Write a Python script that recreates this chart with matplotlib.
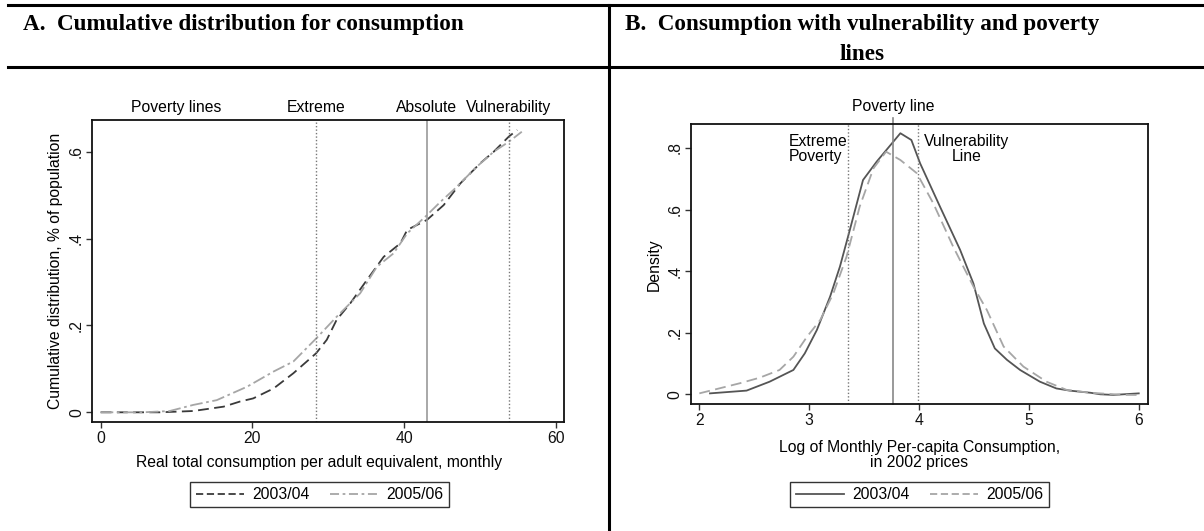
import matplotlib
matplotlib.use("Agg")
import matplotlib.pyplot as plt
from matplotlib.lines import Line2D

plt.rcParams['font.family'] = ['Liberation Sans', 'DejaVu Sans']

# ---- Panel A: cumulative distribution of consumption ----
cdf_x_0304 = [0, 7.8, 12.2, 16.2, 18.4, 20.1, 22.8, 25.4, 28.4, 29.8, 31.1, 32.9,
              35.1, 37.3, 39.5, 40.4, 43.0, 45.2, 47.4, 50.0, 51.8, 53.8, 54.9]
cdf_y_0304 = [0, 0, 0.003, 0.013, 0.025, 0.032, 0.055, 0.09, 0.136, 0.167, 0.213, 0.251,
              0.305, 0.358, 0.389, 0.42, 0.443, 0.477, 0.527, 0.573, 0.60, 0.635, 0.65]
cdf_x_0506 = [0, 5.6, 9.1, 12.2, 15.3, 19.3, 22.8, 25.4, 28.4, 31.1, 34.2, 36.4,
              38.6, 40.4, 43.0, 44.8, 46.5, 49.6, 51.8, 53.8, 55.5]
cdf_y_0506 = [0, 0, 0.003, 0.017, 0.028, 0.059, 0.094, 0.117, 0.17, 0.22, 0.274, 0.335,
              0.366, 0.412, 0.454, 0.485, 0.512, 0.566, 0.60, 0.623, 0.646]
lines_a = {"Extreme": 28.4, "Absolute": 43.0, "Vulnerability": 53.8}
xticks_a = [0, 20, 40, 60]
yticks_a = [0, 0.2, 0.4, 0.6]
yticklabels_a = ["0", ".2", ".4", ".6"]

# ---- Panel B: density of log consumption ----
dens_x_0304 = [2.097, 2.43, 2.64, 2.856, 2.96, 3.07, 3.19, 3.28, 3.37, 3.49, 3.615, 3.83,
               3.93, 4.01, 4.19, 4.374, 4.495, 4.59, 4.69, 4.80, 4.92, 5.10, 5.25, 5.37,
               5.56, 5.65, 5.77, 6.0]
dens_y_0304 = [0.003, 0.012, 0.041, 0.079, 0.133, 0.209, 0.317, 0.415, 0.534, 0.696, 0.756,
               0.848, 0.826, 0.75, 0.61, 0.469, 0.36, 0.23, 0.149, 0.112, 0.079, 0.041,
               0.019, 0.012, 0.005, 0.0, -0.002, 0.003]
dens_x_0506 = [2.0, 2.37, 2.55, 2.73, 2.856, 2.98, 3.10, 3.22, 3.34, 3.46, 3.585, 3.70,
               3.83, 3.98, 4.13, 4.31, 4.495, 4.617, 4.77, 4.95, 5.16, 5.345, 5.56, 5.86, 6.0]
dens_y_0506 = [0.003, 0.036, 0.054, 0.079, 0.122, 0.187, 0.241, 0.328, 0.447, 0.61, 0.734,
               0.788, 0.761, 0.718, 0.62, 0.48, 0.35, 0.274, 0.155, 0.09, 0.041, 0.014,
               0.005, -0.002, -0.002]
extreme_b = 3.354
poverty_b = 3.767
vulner_b = 3.989
xticks_b = [2, 3, 4, 5, 6]
yticks_b = [0, 0.2, 0.4, 0.6, 0.8]
yticklabels_b = ["0", ".2", ".4", ".6", ".8"]

W, H = 1204, 531
fig = plt.figure(figsize=(W / 100, H / 100), dpi=100)

def fx(px):
    return px / W

def fy(py):
    return 1 - py / H

FS = 11.3
TFS = 16.7
DARK = "#3a3a3a"
LIGHT = "#a6a6a6"

# ---- table frame ----
for y in (4.7, 66.7):
    fig.add_artist(Line2D([fx(8), 1], [fy(y), fy(y)], color="black", lw=2.2))
fig.add_artist(Line2D([fx(608.7), fx(608.7)], [fy(4.7), 0], color="black", lw=2.2))

fig.text(fx(23), fy(30), "A.  Cumulative distribution for consumption",
         family="Liberation Serif", weight="bold", fontsize=TFS, va="baseline", ha="left")
fig.text(fx(862), fy(30), "B.  Consumption with vulnerability and poverty",
         family="Liberation Serif", weight="bold", fontsize=TFS, va="baseline", ha="center")
fig.text(fx(862), fy(60), "lines",
         family="Liberation Serif", weight="bold", fontsize=TFS, va="baseline", ha="center")


def style_axes(ax):
    for s in ax.spines.values():
        s.set_linewidth(1.3)
        s.set_color("#111111")
    ax.tick_params(direction="out", length=4.5, width=1.0, color="#333333", pad=1.5,
                   labelsize=FS, labelcolor="#111111")
    for lab in ax.get_yticklabels():
        lab.set_rotation(90)
        lab.set_va("center")


def make_legend(handles, cx):
    leg = fig.legend(handles=handles, labels=["2003/04", "2005/06"], ncol=2, loc="center",
                     bbox_to_anchor=(fx(cx), fy(494.5)), fontsize=FS, frameon=True,
                     fancybox=False, edgecolor="black", handlelength=3.1,
                     columnspacing=1.3, borderpad=0.35, handletextpad=0.5,
                     borderaxespad=0)
    leg.get_frame().set_linewidth(1.0)
    return leg


# ---- Panel A ----
axA = fig.add_axes([fx(92.3), fy(422.3), fx(564.3 - 92.3), (422.3 - 120) / H])
axA.plot(cdf_x_0304, cdf_y_0304, color=DARK, lw=1.3, ls=(0, (6, 3)))
axA.plot(cdf_x_0506, cdf_y_0506, color=LIGHT, lw=1.3, ls=(0, (7, 2, 1.5, 2)))
axA.axvline(lines_a["Extreme"], color="#777777", lw=1.0, ls=(0, (1, 1.5)))
axA.axvline(lines_a["Absolute"], color="#999999", lw=1.2)
axA.axvline(lines_a["Vulnerability"], color="#777777", lw=1.0, ls=(0, (1, 1.5)))
axA.set_xlim(-1.1, 61.1)
axA.set_ylim(-0.023, 0.673)
axA.set_xticks(xticks_a)
axA.set_yticks(yticks_a)
axA.set_yticklabels(yticklabels_a)
style_axes(axA)
axA.set_ylabel("Cumulative distribution, % of population", fontsize=FS, labelpad=4)
axA.text(10, 1.017, "Poverty lines", transform=axA.get_xaxis_transform(),
         ha="center", va="bottom", fontsize=FS)
for name, xv in lines_a.items():
    axA.text(xv, 1.017, name, transform=axA.get_xaxis_transform(),
             ha="center", va="bottom", fontsize=FS)
fig.text(fx(319.5), fy(463), "Real total consumption per adult equivalent, monthly",
         ha="center", va="center", fontsize=FS)
make_legend([Line2D([], [], color=DARK, lw=1.3, ls=(0, (4, 2))),
             Line2D([], [], color=LIGHT, lw=1.3, ls=(0, (5, 2, 1.5, 2)))], 319.5)

# ---- Panel B ----
axB = fig.add_axes([fx(691), fy(404.3), fx(1148.3 - 691), (404.3 - 124.3) / H])
axB.plot(dens_x_0304, dens_y_0304, color="#555555", lw=1.3)
axB.plot(dens_x_0506, dens_y_0506, color=LIGHT, lw=1.3, ls=(0, (6, 3)))
axB.axvline(extreme_b, color="#777777", lw=1.0, ls=(0, (1, 1.5)))
axB.axvline(vulner_b, color="#777777", lw=1.0, ls=(0, (1, 1.5)))
axB.plot([poverty_b, poverty_b], [0, 1.0236], transform=axB.get_xaxis_transform(),
         color="#888888", lw=1.2, clip_on=False)
axB.set_xlim(1.924, 6.087)
axB.set_ylim(-0.0325, 0.877)
axB.set_xticks(xticks_b)
axB.set_yticks(yticks_b)
axB.set_yticklabels(yticklabels_b)
style_axes(axB)
axB.set_ylabel("Density", fontsize=FS, labelpad=4)
axB.text(poverty_b, 1.035, "Poverty line", transform=axB.get_xaxis_transform(),
         ha="center", va="bottom", fontsize=FS)
axB.text(2.816, 0.845, "Extreme\nPoverty", ha="left", va="top", fontsize=FS,
         linespacing=0.95)
axB.text(4.435, 0.845, "Vulnerability\nLine", ha="center", va="top", fontsize=FS,
         linespacing=0.95)
fig.text(fx(919.5), fy(455), "Log of Monthly Per-capita Consumption,\nin 2002 prices",
         ha="center", va="center", fontsize=FS, linespacing=0.95)
make_legend([Line2D([], [], color="#555555", lw=1.3),
             Line2D([], [], color=LIGHT, lw=1.3, ls=(0, (4, 2)))], 919.5)

fig.savefig("out.png", dpi=100)
